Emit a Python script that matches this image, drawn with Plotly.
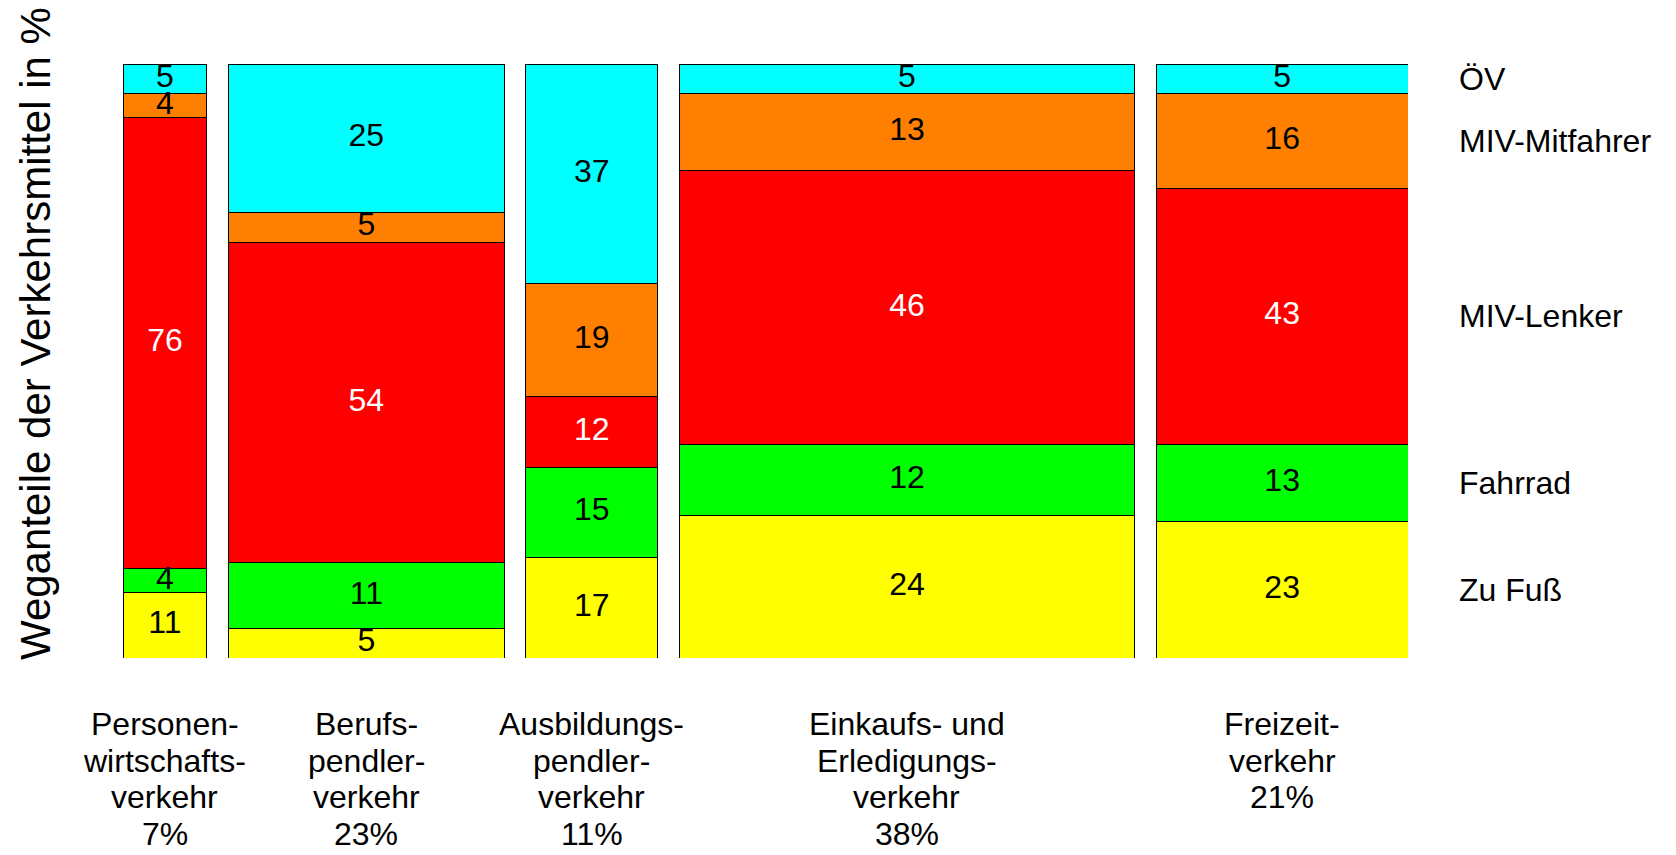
import plotly.graph_objects as go

# ---- data ----
category_lines = [
    ["Personen-", "wirtschafts-", "verkehr"],
    ["Berufs-", "pendler-", "verkehr"],
    ["Ausbildungs-", "pendler-", "verkehr"],
    ["Einkaufs- und", "Erledigungs-", "verkehr"],
    ["Freizeit-", "verkehr"],
]
shares = [7, 23, 11, 38, 21]  # Anteil am Verkehr in %

modes = ["Zu Fuß", "Fahrrad", "MIV-Lenker", "MIV-Mitfahrer", "ÖV"]
zu_fuss = [11, 5, 17, 24, 23]
fahrrad = [4, 11, 15, 12, 13]
miv_lenker = [76, 54, 12, 46, 43]
miv_mitfahrer = [4, 5, 19, 13, 16]
oev = [5, 25, 37, 5, 5]

# ---- style ----
colors = ["#FFFF00", "#00FF00", "#FF0000", "#FF8000", "#00FFFF"]
text_colors = ["black", "black", "white", "black", "black"]
FONT = "Liberation Sans, Arial, sans-serif"
GAP = 1.8  # gap between columns in x units

series = [zu_fuss, fahrrad, miv_lenker, miv_mitfahrer, oev]

# column positions from shares
centers = []
start = 0.0
for s in shares:
    centers.append(start + s / 2)
    start += s + GAP
x_max = start - GAP

fig = go.Figure()
for name, vals, col in zip(modes, series, colors):
    fig.add_trace(go.Bar(
        x=centers, y=vals, width=shares, name=name,
        marker=dict(color=col, line=dict(color="black", width=1)),
        showlegend=False, hoverinfo="skip",
    ))

# segment value labels
tx, ty, tt, tc = [], [], [], []
base = [0] * len(shares)
for vals, tcol in zip(series, text_colors):
    for i, v in enumerate(vals):
        tx.append(centers[i])
        ty.append(base[i] + v / 2)
        tt.append(str(v))
        tc.append(tcol)
        base[i] += v
fig.add_trace(go.Scatter(
    x=tx, y=ty, text=tt, mode="text", textposition="middle center",
    textfont=dict(family=FONT, size=32, color=tc),
    showlegend=False, hoverinfo="skip",
))

annotations = []
# category labels below columns
LINE = 36.6
for i, lines in enumerate(category_lines):
    all_lines = lines + [f"{shares[i]}%"]
    for k, ln in enumerate(all_lines):
        annotations.append(dict(
            x=centers[i], xref="x", y=0, yref="paper",
            yanchor="middle", yshift=-66 - k * LINE,
            text=ln, showarrow=False,
            font=dict(family=FONT, size=32, color="black"),
        ))

# mode labels on the right, aligned with last column
last_base = 0
for name, vals in zip(modes, series):
    v = vals[-1]
    annotations.append(dict(
        x=1, xref="paper", xanchor="left", xshift=49,
        y=last_base + v / 2, yref="y", yanchor="middle",
        text=name, showarrow=False,
        font=dict(family=FONT, size=32, color="black"),
    ))
    last_base += v

# y axis title
annotations.append(dict(
    x=0, xref="paper", xshift=-88, y=0.5, yref="paper", yshift=27,
    text="Weganteile der Verkehrsmittel in %", textangle=-90,
    showarrow=False, xanchor="center", yanchor="middle",
    font=dict(family=FONT, size=42, color="black"),
))

fig.update_layout(
    width=1660, height=839,
    margin=dict(l=115, r=260, t=56, b=189),
    barmode="stack",
    plot_bgcolor="white", paper_bgcolor="white",
    xaxis=dict(range=[0, x_max], visible=False, fixedrange=True),
    yaxis=dict(range=[0, 100], visible=False, fixedrange=True),
    annotations=annotations,
)

fig.write_html("out.html")
